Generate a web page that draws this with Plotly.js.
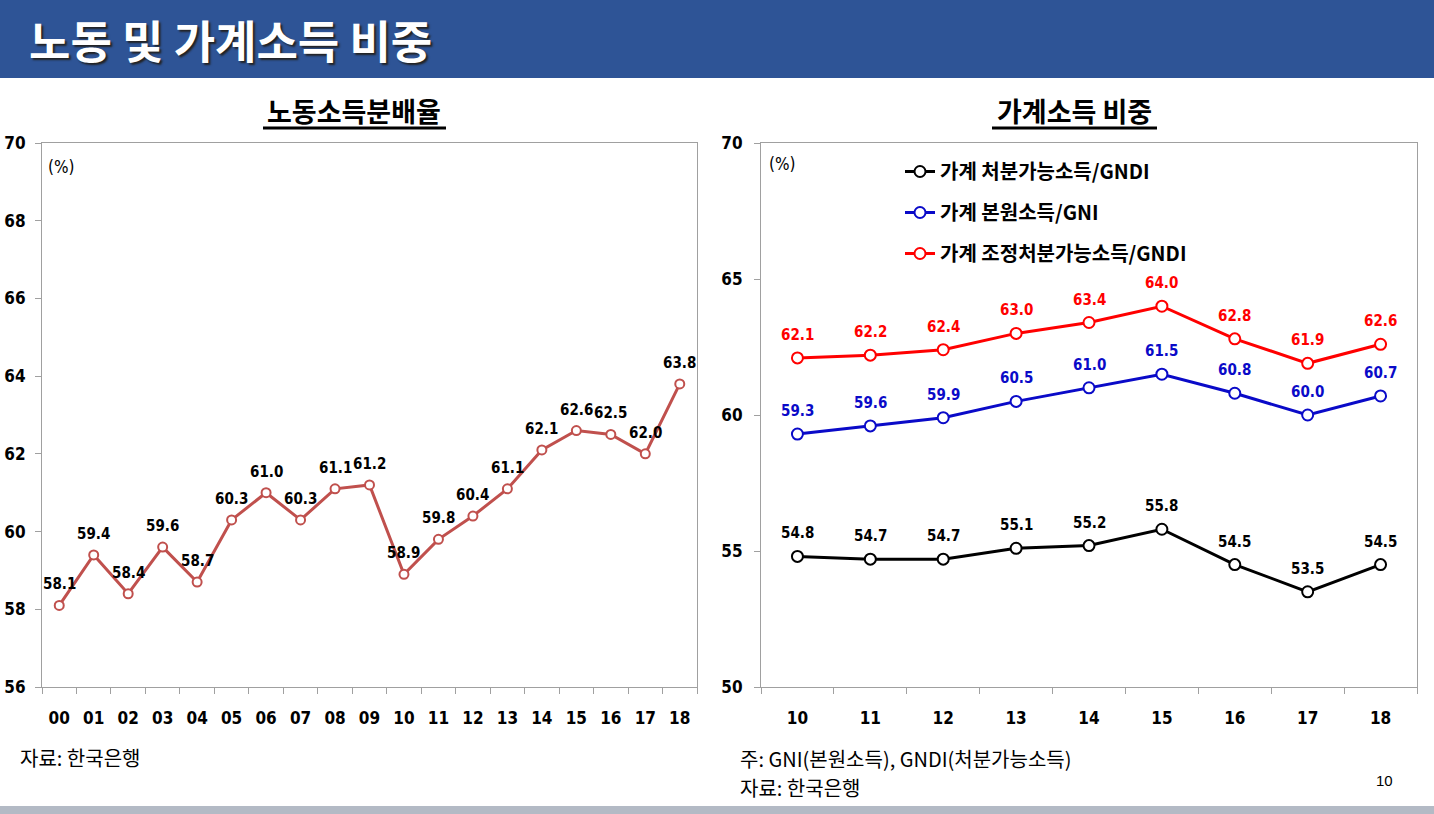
<!DOCTYPE html>
<html>
<head>
<meta charset="utf-8">
<script src="https://cdn.plot.ly/plotly-3.0.1.min.js"></script>
<style>html,body{margin:0;padding:0;background:#fff;}#chart{width:1434px;height:814px;}</style>
</head>
<body>
<div id="chart"></div>
<script>
// ---- data ----
const laborYears = ['00','01','02','03','04','05','06','07','08','09','10','11','12','13','14','15','16','17','18'];
const laborShare = [58.1,59.4,58.4,59.6,58.7,60.3,61.0,60.3,61.1,61.2,58.9,59.8,60.4,61.1,62.1,62.6,62.5,62.0,63.8];

const hhYears = ['10','11','12','13','14','15','16','17','18'];
const hhDisposable = [54.8,54.7,54.7,55.1,55.2,55.8,54.5,53.5,54.5];
const hhPrimary = [59.3,59.6,59.9,60.5,61.0,61.5,60.8,60.0,60.7];
const hhAdjDisposable = [62.1,62.2,62.4,63.0,63.4,64.0,62.8,61.9,62.6];

const seriesNames = ['가계 처분가능소득/GNDI','가계 본원소득/GNI','가계 조정처분가능소득/GNDI'];

// ---- layout helpers ----
const W = 1434, H = 814;
const px = x => x / W;
const py = y => 1 - y / H;
const KR = '"Noto Sans CJK KR", "Noto Sans", sans-serif';
const NUM = '"Liberation Sans Narrow", "DejaVu Sans Condensed", "Roboto Condensed", "Liberation Sans", sans-serif';

const leftColor = '#C0504D';
const colors = ['#000000', '#0A0AC8', '#FF0000'];

const traces = [];
traces.push({
  x: laborYears, y: laborShare, xaxis: 'x', yaxis: 'y', type: 'scatter', mode: 'lines+markers',
  line: {color: leftColor, width: 3}, showlegend: false,
  marker: {symbol: 'circle', size: 9, color: '#fff', line: {color: leftColor, width: 2}},
  hoverinfo: 'skip'
});
const rightSeries = [hhDisposable, hhPrimary, hhAdjDisposable];
rightSeries.forEach((vals, i) => {
  traces.push({
    x: hhYears, y: vals, xaxis: 'x2', yaxis: 'y2', type: 'scatter', mode: 'lines+markers',
    name: seriesNames[i], legendgroup: 'g' + i,
    line: {color: colors[i], width: 3},
    marker: {symbol: 'circle', size: 11, color: '#fff', line: {color: colors[i], width: 2}},
    hoverinfo: 'skip'
  });
});

const annotations = [];
// data labels (x given as category index)
laborYears.forEach((c, i) => {
  annotations.push({x: i, y: laborShare[i], xref: 'x', yref: 'y', text: laborShare[i].toFixed(1),
    showarrow: false, yshift: 21, yanchor: 'middle', xanchor: 'center',
    font: {family: NUM, size: 15, color: '#000', weight: 'bold'}});
});
rightSeries.forEach((vals, s) => {
  hhYears.forEach((c, i) => {
    annotations.push({x: i, y: vals[i], xref: 'x2', yref: 'y2', text: vals[i].toFixed(1),
      showarrow: false, yshift: 23, yanchor: 'middle', xanchor: 'center',
      font: {family: NUM, size: 15, color: colors[s], weight: 'bold'}});
  });
});
// header title
annotations.push({xref: 'paper', yref: 'paper', x: px(27), y: py(40), xanchor: 'left', yanchor: 'middle',
  text: '노동 및 가계소득 비중', showarrow: false,
  font: {family: KR, size: 45, color: '#fff', weight: 'bold', shadow: '2px 2px 2px #222'}});
// chart titles
annotations.push({xref: 'paper', yref: 'paper', x: px(354), y: py(111), xanchor: 'center', yanchor: 'middle',
  text: '노동소득분배율', showarrow: false,
  font: {family: KR, size: 27, color: '#000', weight: 'bold'}});
annotations.push({xref: 'paper', yref: 'paper', x: px(1074), y: py(111), xanchor: 'center', yanchor: 'middle',
  text: '가계소득 비중', showarrow: false,
  font: {family: KR, size: 27, color: '#000', weight: 'bold'}});
// (%) units
annotations.push({xref: 'paper', yref: 'paper', x: px(46), y: py(167), xanchor: 'left', yanchor: 'middle',
  text: '(%)', showarrow: false, font: {family: NUM, size: 17, color: '#000'}});
annotations.push({xref: 'paper', yref: 'paper', x: px(767), y: py(164), xanchor: 'left', yanchor: 'middle',
  text: '(%)', showarrow: false, font: {family: NUM, size: 17, color: '#000'}});
// footnotes
annotations.push({xref: 'paper', yref: 'paper', x: px(18), y: py(757), xanchor: 'left', yanchor: 'middle',
  text: '자료: 한국은행', showarrow: false, font: {family: KR, size: 20, color: '#000'}});
annotations.push({xref: 'paper', yref: 'paper', x: px(738), y: py(758), xanchor: 'left', yanchor: 'middle',
  text: '주: GNI(본원소득), GNDI(처분가능소득)', showarrow: false, font: {family: KR, size: 20, color: '#000'}});
annotations.push({xref: 'paper', yref: 'paper', x: px(738), y: py(787), xanchor: 'left', yanchor: 'middle',
  text: '자료: 한국은행', showarrow: false, font: {family: KR, size: 20, color: '#000'}});
annotations.push({xref: 'paper', yref: 'paper', x: px(1395), y: py(780), xanchor: 'right', yanchor: 'middle',
  text: '10', showarrow: false, font: {family: '"Liberation Sans", sans-serif', size: 15, color: '#000'}});

const shapes = [
  {type: 'rect', xref: 'paper', yref: 'paper', x0: 0, x1: 1, y0: py(78), y1: 1, fillcolor: '#2E5496', line: {width: 0}, layer: 'below'},
  {type: 'rect', xref: 'paper', yref: 'paper', x0: 0, x1: 1, y0: 0, y1: py(806), fillcolor: '#B3BAC5', line: {width: 0}, layer: 'below'},
  // title underlines
  {type: 'line', xref: 'paper', yref: 'paper', x0: px(263), x1: px(446), y0: py(128), y1: py(128), line: {color: '#000', width: 3}},
  {type: 'line', xref: 'paper', yref: 'paper', x0: px(992), x1: px(1157), y0: py(128), y1: py(128), line: {color: '#000', width: 3}}
];

const axisLine = '#A0A0A0';
const tickFont = {family: NUM, size: 17, color: '#000', weight: 'bold'};

const layout = {
  width: W, height: H,
  margin: {l: 0, r: 0, t: 0, b: 0},
  paper_bgcolor: '#fff', plot_bgcolor: '#fff',
  showlegend: true,
  legend: {x: px(900), y: py(152), xanchor: 'left', yanchor: 'top', bgcolor: 'rgba(0,0,0,0)',
    font: {family: KR, size: 20, color: '#000', weight: 'bold'}, tracegroupgap: 12, itemwidth: 30},
  xaxis: {domain: [px(42), px(697)], type: 'category', range: [-0.5, 18.5], anchor: 'y',
    showline: true, linecolor: axisLine, linewidth: 1, mirror: true,
    ticks: 'outside', tickson: 'boundaries', ticklen: 6, tickcolor: axisLine,
    showgrid: false, tickfont: tickFont, ticklabelstandoff: 16, fixedrange: true},
  yaxis: {domain: [py(687), py(143)], range: [56, 70], dtick: 2, anchor: 'x',
    showline: true, linecolor: axisLine, linewidth: 1, mirror: true,
    ticks: 'outside', ticklen: 6, tickcolor: axisLine, showgrid: false, zeroline: false,
    tickfont: tickFont, ticklabelstandoff: 6, fixedrange: true},
  xaxis2: {domain: [px(761), px(1417)], type: 'category', range: [-0.5, 8.5], anchor: 'y2',
    showline: true, linecolor: axisLine, linewidth: 1, mirror: true,
    ticks: 'outside', tickson: 'boundaries', ticklen: 6, tickcolor: axisLine,
    showgrid: false, tickfont: tickFont, ticklabelstandoff: 16, fixedrange: true},
  yaxis2: {domain: [py(687), py(143)], range: [50, 70], dtick: 5, anchor: 'x2',
    showline: true, linecolor: axisLine, linewidth: 1, mirror: true,
    ticks: 'outside', ticklen: 6, tickcolor: axisLine, showgrid: false, zeroline: false,
    tickfont: tickFont, ticklabelstandoff: 8, fixedrange: true},
  annotations: annotations,
  shapes: shapes
};

Plotly.newPlot('chart', traces, layout, {displayModeBar: false, staticPlot: true});
</script>
</body>
</html>
